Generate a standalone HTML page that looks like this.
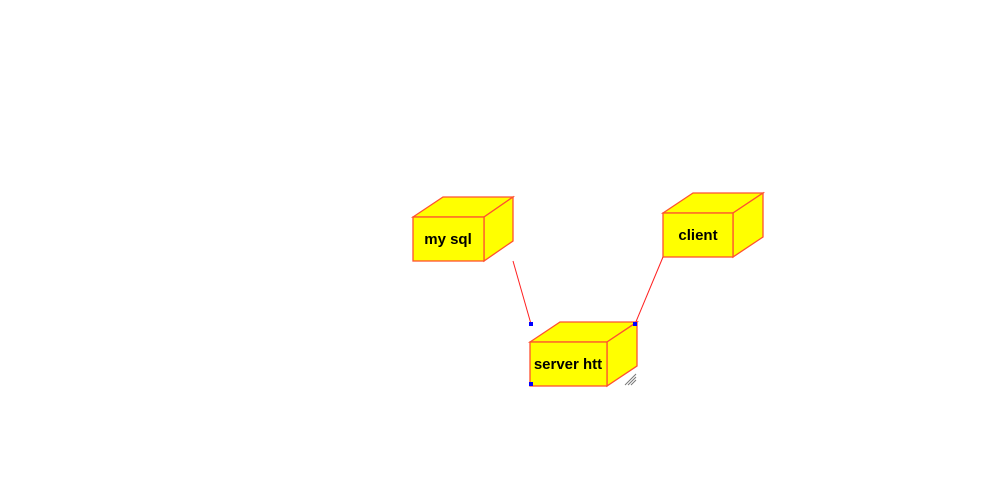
<!DOCTYPE html>
<html><head><meta charset="utf-8"><style>
html,body{margin:0;padding:0;background:#fff;}
svg{display:block;}
text{font-family:"Liberation Sans",Arial,sans-serif;font-weight:bold;font-size:15px;fill:#000;}
</style></head><body>
<svg width="1006" height="489" viewBox="0 0 1006 489" xmlns="http://www.w3.org/2000/svg">
<g stroke="#ff5030" stroke-width="1.3" fill="#ffff00" stroke-linejoin="miter">
<polygon points="413,217 443,197 513,197 484,217"/>
<polygon points="484,217 513,197 513,241 484,261"/>
<rect x="413" y="217" width="71" height="44"/>
<polygon points="663,213 693,193 763,193 733,213"/>
<polygon points="733,213 763,193 763,237 733,257"/>
<rect x="663" y="213" width="70" height="44"/>
<polygon points="530,342 560,322 637,322 607,342"/>
<polygon points="607,342 637,322 637,366 607,386"/>
<rect x="530" y="342" width="77" height="44"/>
</g>
<text x="448" y="244" text-anchor="middle">my sql</text>
<text x="698" y="240" text-anchor="middle">client</text>
<text x="568" y="369" text-anchor="middle">server htt</text>
<g stroke="#ff2020" stroke-width="1">
<line x1="513" y1="261" x2="531" y2="324"/>
<line x1="663" y1="257" x2="635" y2="324"/>
</g>
<g fill="#0000ff">
<rect x="529" y="322" width="4" height="4"/>
<rect x="633" y="322" width="4" height="4"/>
<rect x="529" y="382" width="4" height="4"/>
</g>
<g stroke="#777" stroke-width="1">
<line x1="625" y1="385" x2="636" y2="374"/>
<line x1="628" y1="385" x2="636" y2="377"/>
<line x1="631" y1="385" x2="636" y2="380"/>
</g>
</svg>
</body></html>
